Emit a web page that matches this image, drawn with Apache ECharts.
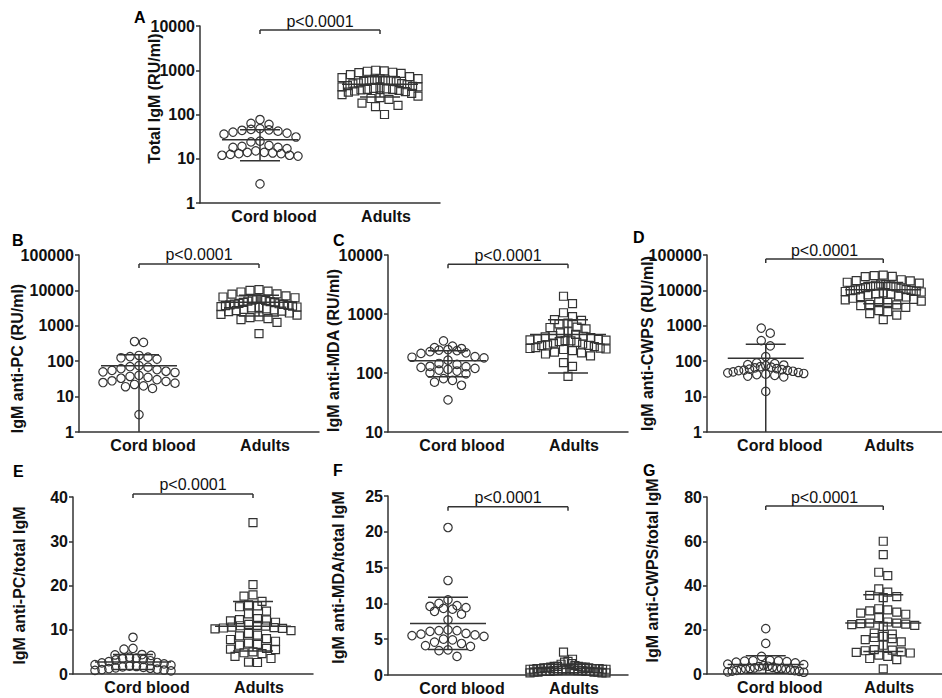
<!DOCTYPE html>
<html>
<head>
<meta charset="utf-8">
<script src="https://cdn.jsdelivr.net/npm/echarts@6/dist/echarts.min.js"></script>
<style>
html,body{margin:0;padding:0;background:#ffffff;}
#c{width:942px;height:698px;}
</style>
</head>
<body>
<div id="c"></div>
<script>
// ---------------- data ----------------
const categories = ['Cord blood', 'Adults'];
const panelLetters = ['A', 'B', 'C', 'D', 'E', 'F', 'G'];
const yNames = ['Total IgM (RU/ml)', 'IgM anti-PC (RU/ml)', 'IgM anti-MDA (RU/ml)', 'IgM anti-CWPS (RU/ml)',
  'IgM anti-PC/total IgM', 'IgM anti-MDA/total IgM', 'IgM anti-CWPS/total IgM'];
const pLabel = 'p<0.0001';

// A: Total IgM (RU/ml)
const aCord = [77, 63, 60, 48, 46, 45, 44, 42, 40, 38, 36, 31, 25, 24, 20, 19, 18, 18, 17, 15, 14, 14, 13.5, 13, 13, 12.5, 12, 12, 11.5, 2.7];
const aAdult = [1000, 970, 950, 900, 880, 850, 800, 720, 680, 650, 640, 620, 600, 600, 580, 560, 550, 520, 500, 490, 470, 450, 430, 420, 420, 400, 390, 380, 370, 370, 360, 350, 340, 330, 320, 300, 280, 260, 240, 230, 220, 180, 160, 150, 100];
const aStats = [[27, 18], [480, 230]]; // [mean, SD]

// B: IgM anti-PC (RU/ml)
const bCord = [360, 340, 145, 135, 130, 125, 115, 75, 70, 68, 62, 58, 55, 52, 50, 48, 40, 37, 35, 33, 30, 28, 27, 25, 24, 22, 20, 19, 17, 3.1];
const bAdult = [10500, 10000, 9500, 9000, 8000, 7800, 7000, 6500, 6200, 5800, 5600, 5400, 5200, 5000, 4800, 4600, 4500, 4300, 4200, 4100, 4000, 3900, 3800, 3700, 3600, 3500, 3400, 3300, 3200, 3000, 2900, 2800, 2700, 2600, 2500, 2300, 2100, 2000, 1800, 1700, 1600, 1500, 1250, 600];
const bStats = [[74, 77], [4600, 2700]];

// C: IgM anti-MDA (RU/ml)
const cCord = [350, 285, 270, 260, 250, 245, 240, 230, 220, 215, 190, 185, 180, 165, 145, 140, 130, 128, 125, 120, 115, 112, 108, 100, 97, 80, 75, 70, 62, 35];
const cAdult = [2000, 1500, 1050, 900, 800, 780, 700, 680, 600, 590, 560, 500, 480, 450, 430, 420, 410, 400, 380, 370, 365, 360, 355, 350, 340, 330, 320, 310, 300, 295, 290, 280, 270, 265, 260, 255, 250, 240, 225, 220, 210, 195, 150, 130, 88];
const cStats = [[162, 76], [450, 350]];

// D: IgM anti-CWPS (RU/ml)
const dCord = [860, 620, 380, 270, 135, 90, 85, 80, 78, 75, 70, 68, 65, 62, 60, 58, 56, 55, 54, 52, 50, 48, 47, 45, 43, 42, 40, 38, 36, 14];
const dAdult = [27000, 26000, 25000, 24500, 20000, 19000, 18500, 17000, 16000, 15000, 14500, 14000, 13500, 13000, 12500, 12000, 11500, 11000, 10500, 10300, 10000, 9800, 9500, 9300, 9000, 8500, 8000, 7800, 7500, 7000, 6700, 6500, 6000, 5600, 5400, 5000, 4800, 4600, 4000, 3900, 3700, 3300, 2700, 2500, 2200, 2000, 1500];
const dStats = [[122, 180], [10500, 6300]];

// E: IgM anti-PC / total IgM
const eCord = [8.3, 5.8, 5.6, 4.4, 4.3, 4.2, 3.8, 3.6, 3.5, 3.3, 3.2, 3.0, 2.8, 2.6, 2.5, 2.3, 2.1, 2.0, 1.8, 1.7, 1.6, 1.5, 1.4, 1.3, 1.2, 1.1, 1.0, 0.9, 0.8, 0.7];
const eAdult = [34.2, 20.2, 17.9, 17.6, 16.4, 15.6, 15.4, 15.2, 14.2, 13.6, 12.5, 12.3, 12.2, 12.0, 11.7, 11.2, 11.0, 10.9, 10.8, 10.6, 10.5, 10.4, 10.3, 10.2, 9.8, 9.2, 8.8, 8.6, 8.0, 7.8, 7.4, 7.0, 6.7, 6.5, 5.8, 5.6, 5.5, 5.0, 4.8, 4.6, 4.0, 3.5, 2.7, 2.6];
const eStats = [[2.7, 1.7], [10.8, 5.6]];

// F: IgM anti-MDA / total IgM
const fCord = [20.6, 13.2, 10.5, 10.0, 9.7, 9.6, 9.4, 9.3, 9.2, 8.9, 8.5, 7.7, 6.3, 6.2, 6.2, 6.1, 5.8, 5.7, 5.6, 5.5, 5.4, 5.0, 4.9, 4.6, 4.4, 4.1, 4.0, 3.5, 3.4, 2.6];
const fAdult = [3.2, 2.2, 1.9, 1.8, 1.6, 1.5, 1.3, 1.2, 1.2, 1.2, 1.1, 1.1, 1.1, 1.0, 1.0, 1.0, 0.9, 0.9, 0.9, 0.9, 0.9, 0.8, 0.8, 0.8, 0.8, 0.7, 0.7, 0.7, 0.7, 0.6, 0.6, 0.6, 0.6, 0.5, 0.5, 0.5, 0.5, 0.5, 0.4, 0.4, 0.4, 0.4, 0.3, 0.3, 0.3];
const fStats = [[7.2, 3.65], [0.9, 0.6]];

// G: IgM anti-CWPS / total IgM
const gCord = [20.5, 13.8, 8.0, 6.2, 6.0, 5.9, 5.8, 5.6, 5.4, 5.0, 4.5, 4.2, 3.8, 3.5, 3.3, 3.0, 2.8, 2.6, 2.5, 2.4, 2.3, 2.2, 2.0, 1.8, 1.6, 1.5, 1.3, 1.2, 1.0, 0.8];
const gAdult = [60, 54, 46, 44.5, 38.5, 37, 35.5, 35, 34.5, 29.5, 29, 28.5, 28, 27.5, 27, 25.5, 23.5, 23, 23, 22.8, 22.5, 22.3, 22, 21.5, 18.5, 18, 17, 16.5, 16, 15.5, 14.5, 13, 11, 10.8, 10.5, 10, 9.8, 9.5, 8.5, 8, 7, 6.5, 2.3];
const gStats = [[4.3, 4.0], [23, 12.8]];

// axis ranges and bracket levels (data units)
const yMins = [1, 1, 10, 1, 0, 0, 0];
const yMaxs = [10000, 100000, 10000, 100000, 40, 25, 80];
const yIntervals = [null, null, null, null, 10, 5, 20];
const bracketLevels = [8100, 55700, 7000, 77000, 40.7, 23.5, 75.9];

// ---------------- layout / style ----------------
const FONT = '"Liberation Sans", Arial, Helvetica, sans-serif';
const INK = '#333333';
const TXT = '#111111';

const layout = [
  {left: 200, top: 26, h: 177, gap: 38, pad: [0, 0, 0, 32], lx: 134, ly: 9},
  {left: 79, top: 255, h: 177, gap: 54, pad: [0, 30, 0, 0], lx: 12, ly: 232},
  {left: 388, top: 255, h: 177, gap: 47, pad: [0, 14, 0, 0], lx: 333, ly: 232},
  {left: 707, top: 255, h: 177, gap: 52, pad: [0, 0, 0, 0], lx: 633, ly: 229},
  {left: 73, top: 497, h: 177, gap: 46, pad: [0, 0, 0, 0], lx: 13, ly: 463},
  {left: 388, top: 496, h: 179, gap: 42, pad: [0, 0, 0, 16], lx: 333, ly: 462},
  {left: 707, top: 497, h: 177, gap: 47, pad: [0, 0, 0, 30], lx: 643, ly: 462}
];

const cordSets = [aCord, bCord, cCord, dCord, eCord, fCord, gCord];
const adultSets = [aAdult, bAdult, cAdult, dAdult, eAdult, fAdult, gAdult];
const statSets = [aStats, bStats, cStats, dStats, eStats, fStats, gStats];

const R = 4.2;      // circle radius
const S = 8;        // square side
const DX = 9;       // horizontal slot spacing
const BIN = 8.5;    // vertical row height
const MAXW = 76;    // max spread of a row

function swarm(pys) {
  const idx = pys.map((p, i) => i).sort((a, b) => pys[a] - pys[b]);
  const off = new Array(pys.length).fill(0);
  let i = 0;
  while (i < idx.length) {
    let j = i;
    const start = pys[idx[i]];
    while (j < idx.length && pys[idx[j]] - start < BIN) j++;
    const row = idx.slice(i, j);
    const n = row.length;
    let step = DX;
    if (n > 1 && (n - 1) * DX > MAXW) step = MAXW / (n - 1);
    const slots = [];
    for (let m = 0; m < n; m++) slots.push((m - (n - 1) / 2) * step);
    slots.sort((a, b) => Math.abs(a) - Math.abs(b) || a - b);
    row.forEach((k, m) => { off[k] = slots[m]; });
    i = j;
  }
  return off;
}

function lineEl(x1, y1, x2, y2) {
  return {type: 'line', shape: {x1, y1, x2, y2}, style: {stroke: INK, lineWidth: 1.5}};
}

function renderCircle(params, api) {
  const c = api.coord([api.value(0), api.value(1)]);
  return {type: 'circle', shape: {cx: c[0] + api.value(2), cy: c[1], r: R},
    style: {fill: 'none', stroke: INK, lineWidth: 1.2}};
}
function renderSquare(params, api) {
  const c = api.coord([api.value(0), api.value(1)]);
  const x = c[0] + api.value(2);
  return {type: 'rect', shape: {x: x - S / 2, y: c[1] - S / 2, width: S, height: S},
    style: {fill: 'none', stroke: INK, lineWidth: 1.2}};
}
function makeErr(i) {
  const isLog = yIntervals[i] === null;
  const mn = yMins[i];
  return function (params, api) {
    const cat = api.value(0), m = api.value(1), sd = api.value(2);
    const pm = api.coord([cat, m]);
    const hi = api.coord([cat, m + sd]);
    const lv = m - sd;
    const valid = isLog ? lv > mn : lv >= mn;
    const lo = api.coord([cat, valid ? lv : mn]);
    const x = pm[0];
    const ch = [
      lineEl(x - 38, pm[1], x + 38, pm[1]),
      lineEl(x - 20, hi[1], x + 20, hi[1]),
      lineEl(x, hi[1], x, lo[1])
    ];
    if (valid) ch.push(lineEl(x - 20, lo[1], x + 20, lo[1]));
    return {type: 'group', children: ch};
  };
}
function renderBracket(params, api) {
  const v = api.value(1);
  const p0 = api.coord([0, v]);
  const p1 = api.coord([1, v]);
  const y = p0[1];
  return {type: 'group', children: [
    lineEl(p0[0], y, p1[0], y),
    lineEl(p0[0], y, p0[0], y + 4),
    lineEl(p1[0], y, p1[0], y + 4),
    {type: 'text', x: (p0[0] + p1[0]) / 2, y: y - 1,
      style: {text: pLabel, fill: TXT, font: '16px ' + FONT, align: 'center', verticalAlign: 'bottom',
        textAlign: 'center', textVerticalAlign: 'bottom'}}
  ]};
}

function buildOption(offsets) {
  const grid = [], xAxis = [], yAxis = [], series = [], graphic = [];
  for (let i = 0; i < 7; i++) {
    const L = layout[i];
    const isLog = yIntervals[i] === null;
    grid.push({left: L.left, top: L.top, width: 240, height: L.h});
    xAxis.push({
      type: 'category', gridIndex: i, data: categories,
      axisLine: {lineStyle: {color: INK, width: 1.5}},
      axisTick: {alignWithLabel: true, interval: 0, length: 4, lineStyle: {color: INK, width: 1.5}},
      axisLabel: {interval: 0, margin: 5,
        formatter: v => (v === categories[0] ? '{c|' + v + '}' : '{a|' + v + '}'),
        rich: {
          c: {padding: [0, 0, 0, 28], fontSize: 16, fontWeight: 'bold', fontFamily: FONT, color: TXT},
          a: {padding: [0, 0, 0, 12], fontSize: 16, fontWeight: 'bold', fontFamily: FONT, color: TXT}
        }},
      splitLine: {show: false}
    });
    const ya = {
      type: isLog ? 'log' : 'value', gridIndex: i, min: yMins[i], max: yMaxs[i],
      name: yNames[i], nameLocation: 'middle', nameGap: L.gap, nameRotate: 90, nameMoveOverlap: false,
      nameTextStyle: {fontSize: 16, fontWeight: 'bold', fontFamily: FONT, color: TXT, padding: L.pad},
      axisLine: {show: true, lineStyle: {color: INK, width: 1.5}},
      axisTick: {show: true, length: 4, lineStyle: {color: INK, width: 1.5}},
      minorTick: {show: false},
      axisLabel: {fontSize: 16, fontWeight: 'bold', fontFamily: FONT, color: TXT, margin: 5,
        formatter: v => String(isLog ? Math.round(v) : v)},
      splitLine: {show: false}
    };
    if (isLog) ya.logBase = 10; else ya.interval = yIntervals[i];
    yAxis.push(ya);

    const oc = offsets ? offsets[i][0] : cordSets[i].map(() => 0);
    const oa = offsets ? offsets[i][1] : adultSets[i].map(() => 0);
    const base = {type: 'custom', xAxisIndex: i, yAxisIndex: i, silent: true, animation: false, clip: false,
      encode: {x: 0, y: 1}};
    series.push(Object.assign({}, base, {data: cordSets[i].map((v, k) => [0, v, oc[k]]), renderItem: renderCircle}));
    series.push(Object.assign({}, base, {data: adultSets[i].map((v, k) => [1, v, oa[k]]), renderItem: renderSquare}));
    series.push(Object.assign({}, base, {data: statSets[i].map((s, k) => [k, s[0], s[1]]), renderItem: makeErr(i)}));
    series.push(Object.assign({}, base, {data: [[0, bracketLevels[i]]], renderItem: renderBracket}));

    graphic.push({type: 'text', left: L.lx, top: L.ly,
      style: {text: panelLetters[i], fill: '#000', font: 'bold 16px ' + FONT}});
  }
  return {backgroundColor: '#ffffff', animation: false, grid, xAxis, yAxis, series, graphic};
}

const chart = echarts.init(document.getElementById('c'), null, {renderer: 'svg', width: 942, height: 698});
chart.setOption(buildOption(null));
const offsets = [];
for (let i = 0; i < 7; i++) {
  const pc = cordSets[i].map(v => chart.convertToPixel({yAxisIndex: i}, v));
  const pa = adultSets[i].map(v => chart.convertToPixel({yAxisIndex: i}, v));
  offsets.push([swarm(pc), swarm(pa)]);
}
chart.setOption(buildOption(offsets), true);
</script>
</body>
</html>
